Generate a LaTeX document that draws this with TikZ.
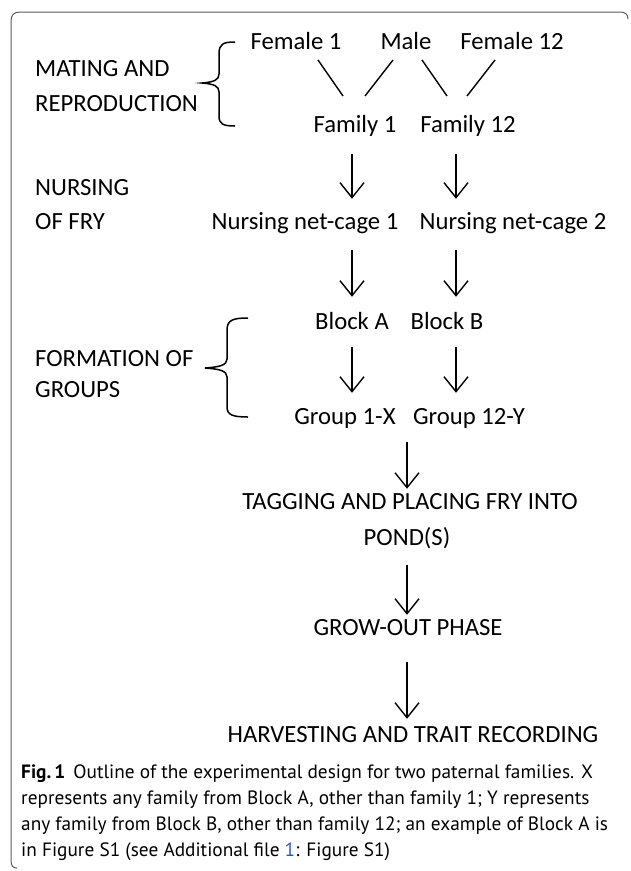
\documentclass[tikz,border=0pt]{standalone}
\usepackage{fontspec}
\setmainfont{Carlito}
\newfontfamily\capfont{PT Sans}
\usetikzlibrary{arrows.meta}
\definecolor{linkblue}{RGB}{45,85,200}
\definecolor{framegray}{RGB}{90,90,90}
\begin{document}
\begin{tikzpicture}[x=1pt,y=-1pt,
  lab/.style={inner sep=0pt, font=\fontsize{24.7}{29}\selectfont, text height=18pt, text depth=4pt},
  llab/.style={lab, anchor=west},
  arr/.style={line width=1.4pt, -{Straight Barb[length=15pt,width=24pt]}},
  ln/.style={line width=1.4pt},
  bracestyle/.style={line width=1.5pt}]
\useasboundingbox (0,0) rectangle (630,871);
% frame
\draw[framegray, line width=1pt] (628,19) .. controls (628,14) and (625,12) .. (620,12) -- (20,12)
  .. controls (14,12) and (11,15) .. (11,21) -- (11,860) .. controls (11,866) and (13,868) .. (17,868);
% column guides
\coordinate (colA) at (352,0);
\coordinate (colB) at (456,0);
\coordinate (colC) at (407,0);
% top row
\node[lab] (f1) at (296,42) {Female 1};
\node[lab] (m) at (406,42) {Male};
\node[lab] (f12) at (512,42) {Female 12};
\node[lab] (fa1) at (355,125) {Family 1};
\node[lab] (fa12) at (468,125) {Family 12};
\coordinate (l1a) at (318,60); \coordinate (l1b) at (343,96);
\coordinate (l2a) at (393,60); \coordinate (l2b) at (365,96);
\coordinate (l3a) at (422,60); \coordinate (l3b) at (447,96);
\coordinate (l4a) at (495,60); \coordinate (l4b) at (467,96);
\draw[ln] (l1a) -- (l1b);
\draw[ln] (l2a) -- (l2b);
\draw[ln] (l3a) -- (l3b);
\draw[ln] (l4a) -- (l4b);
% left labels
\node[llab] (mat1) at (35,69) {MATING AND};
\node[llab] (mat2) at (35,104) {REPRODUCTION};
\node[llab] (nur1) at (35,188) {NURSING};
\node[llab] (nur2) at (35,222) {OF FRY};
\node[llab] (for1) at (35,359) {FORMATION OF};
\node[llab] (for2) at (35,390) {GROUPS};
% braces
\draw[bracestyle] (235,42) .. controls (223,42) and (219,44) .. (219,54) -- (219,74)
  .. controls (219,80) and (214,82) .. (202,83) .. controls (214,84) and (219,86) .. (219,92)
  -- (219,116) .. controls (219,124) and (223,126) .. (235,126);
\draw[bracestyle] (248,318) .. controls (233,318) and (227,320) .. (227,330) -- (227,359)
  .. controls (227,365) and (220,367) .. (205,368) .. controls (220,369) and (227,371) .. (227,377)
  -- (227,407) .. controls (227,415) and (233,417) .. (248,417);
% other rows
\node[lab] (nc1) at (305,222) {Nursing net-cage 1};
\node[lab] (nc2) at (513,222) {Nursing net-cage 2};
\node[lab] (bA) at (352,322) {Block A};
\node[lab] (bB) at (447,322) {Block B};
\node[lab] (gA) at (345,417) {Group 1-X};
\node[lab] (gB) at (469,417) {Group 12-Y};
\node[lab] (tag) at (410,502) {TAGGING AND PLACING FRY INTO};
\node[lab] (pond) at (407,538) {POND(S)};
\node[lab] (grow) at (408,628) {GROW-OUT PHASE};
\node[lab] (harv) at (413,735) {HARVESTING AND TRAIT RECORDING};
% arrows
\draw[arr, shorten <=18pt, shorten >=12pt] (colA |- fa1.south) -- (colA |- nc1.north);
\draw[arr, shorten <=18pt, shorten >=12pt] (colB |- fa12.south) -- (colB |- nc2.north);
\draw[arr, shorten <=17pt, shorten >=14pt] (colA |- nc1.south) -- (colA |- bA.north);
\draw[arr, shorten <=17pt, shorten >=14pt] (colB |- nc2.south) -- (colB |- bB.north);
\draw[arr, shorten <=14pt, shorten >=13pt] (colA |- bA.south) -- (colA |- gA.north);
\draw[arr, shorten <=14pt, shorten >=13pt] (colB |- bB.south) -- (colB |- gB.north);
\draw[arr, shorten <=14pt, shorten >=2pt] (colC |- gA.south) -- (colC |- tag.north);
\draw[arr, shorten <=16pt, shorten >=2pt] (colC |- pond.south) -- (colC |- grow.north);
\draw[arr, shorten <=23pt, shorten >=5pt] (colC |- grow.south) -- (colC |- harv.north);
% caption
\node[anchor=north west, inner sep=0pt, align=left,
  font=\capfont\fontsize{19.3}{25.8}\selectfont] (cap) at (21,765)
  {\textbf{Fig.\,1}\hspace{8pt}Outline of the experimental design for two paternal families. X\\
   represents any family from Block A, other than family 1; Y represents\\
   any family from Block B, other than family 12; an example of Block A is\\
   in Figure S1 (see Additional file \textcolor{linkblue}{1}: Figure S1)};
\end{tikzpicture}
\end{document}
